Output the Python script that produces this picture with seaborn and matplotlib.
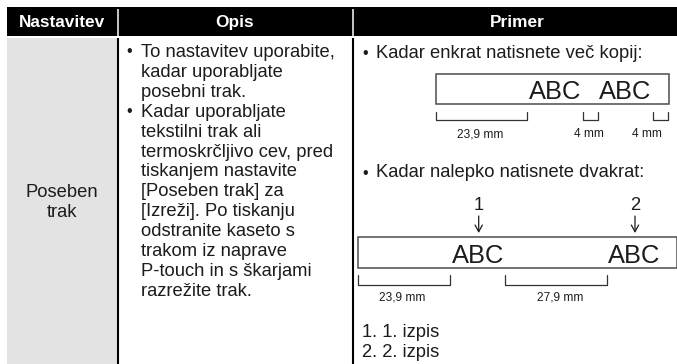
import matplotlib
matplotlib.use("Agg")
import matplotlib.pyplot as plt
import pandas as pd
import seaborn as sns
from matplotlib.patches import Rectangle

# table content
headers = ["Nastavitev", "Opis", "Primer"]
setting_lines = ["Poseben", "trak"]
opis_bullets = [
    ["To nastavitev uporabite,", "kadar uporabljate", "posebni trak."],
    ["Kadar uporabljate", "tekstilni trak ali", "termoskrčljivo cev, pred",
     "tiskanjem nastavite", "[Poseben trak] za", "[Izreži]. Po tiskanju",
     "odstranite kaseto s", "trakom iz naprave", "P-touch in s škarjami",
     "razrežite trak."],
]
example_titles = ["Kadar enkrat natisnete več kopij:", "Kadar nalepko natisnete dvakrat:"]
strip_text = "ABC"
strip1_sizes = ["23,9 mm", "4 mm", "4 mm"]
strip2_sizes = ["23,9 mm", "27,9 mm"]
print_marks = ["1", "2"]
footer_lines = ["1. 1. izpis", "2. 2. izpis"]

sns.set_theme(style="white")
plt.rcParams["font.family"] = ["Liberation Sans", "DejaVu Sans"]

W, H = 677, 364
INK = "#1c1c1c"
BODY = 13.2
fig = plt.figure(figsize=(W / 100, H / 100), dpi=100)
ax = fig.add_axes([0, 0, 1, 1])
ax.set_xlim(0, W)
ax.set_ylim(H, 0)
ax.axis("off")


def put(x, y, s, size=BODY, ha="left", **kw):
    ax.text(x, y, s, fontsize=size, ha=ha, va="baseline", color=kw.pop("color", INK), **kw)


def dot(x, y):
    put(x, y + 5.6, "•", size=11.5, ha="center")


def bracket(x0, x1, y0, y1):
    brk = pd.DataFrame({"x": [x0, x0, x1, x1], "y": [y0, y1, y1, y0]})
    sns.lineplot(data=brk, x="x", y="y", sort=False, estimator=None, ax=ax,
                 color="#333333", linewidth=0.9)


def strip(x0, x1, y0, y1):
    ax.add_patch(Rectangle((x0, y0), x1 - x0, y1 - y0, fc="white", ec="#4d4d4d", lw=1.1))


# header band and grey first column
ax.add_patch(Rectangle((7, 7), W - 7, 29, fc="black", ec="none"))
ax.add_patch(Rectangle((7, 37.5), 110, H - 37.5, fc="#e3e3e3", ec="none"))
for x in (118, 352.7):
    ax.plot([x, x], [9, 36], color="white", lw=1.1, solid_capstyle="butt")
    ax.plot([x, x], [37.5, H], color="black", lw=1.5, solid_capstyle="butt")
for x, label in zip((62.5, 235, 517), headers):
    put(x, 27, label, size=12.4, ha="center", color="white", fontweight="bold")

for y, line in zip((197, 217), setting_lines):
    put(62, y, line, ha="center")

# description column
y = 57
for lines in opis_bullets:
    dot(129, y - 6.5)
    for line in lines:
        put(141, y, line)
        y += 19.9

# first example
dot(365, 52)
put(376, 58.3, example_titles[0])
strip(436, 668.5, 74, 104)
put(528.5, 98.6, strip_text, size=18.4)
put(598.5, 98.6, strip_text, size=18.4)
for (x0, x1) in [(436, 527), (582.7, 597.7), (653, 668)]:
    bracket(x0, x1, 111.7, 120.3)
for x, label in zip((480, 588.7, 647), strip1_sizes):
    put(x, 137.3, label, size=8.6, ha="center")

# second example
dot(365, 172)
put(376, 176.7, example_titles[1])
for x, mark in zip((478.7, 635), print_marks):
    put(x, 210, mark, ha="center")
    ax.annotate("", xy=(x, 233), xytext=(x, 216),
                arrowprops=dict(arrowstyle="->,head_width=0.22,head_length=0.4", color=INK, lw=0.9,
                                shrinkA=0, shrinkB=0))
strip(358, 676.5, 237, 268)
put(452, 262.7, strip_text, size=18.4)
put(608, 262.7, strip_text, size=18.4)
for (x0, x1) in [(358, 449.5), (504.7, 607.3)]:
    bracket(x0, x1, 274.7, 285.3)
for x, label in zip((402, 559.7), strip2_sizes):
    put(x, 300, label, size=8.6, ha="center")

for y, line in zip((337, 357), footer_lines):
    put(362, y, line)

ax.set_xlim(0, W)
ax.set_ylim(H, 0)
ax.axis("off")
fig.savefig("out.png", dpi=100)
plt.close(fig)
